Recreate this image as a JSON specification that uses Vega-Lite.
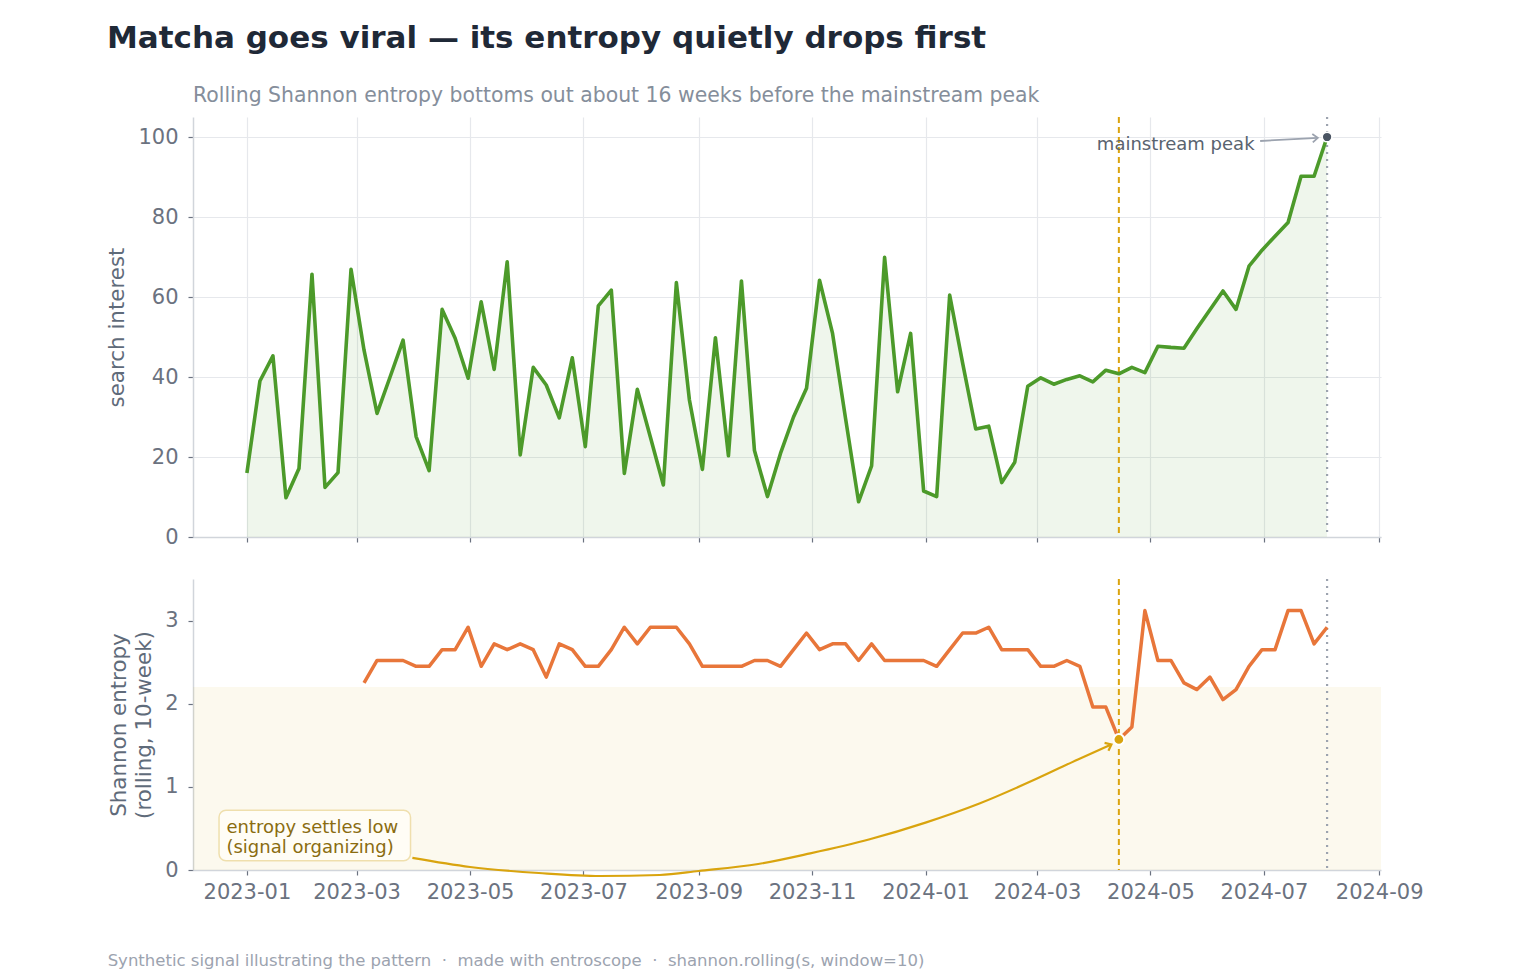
{
  "$schema": "https://vega.github.io/schema/vega-lite/v6.json",
  "background": "white",
  "padding": {"left": 106, "top": 22, "right": 20, "bottom": 10},
  "title": {
    "text": "Matcha goes viral — its entropy quietly drops first",
    "anchor": "start",
    "frame": "bounds",
    "font": "DejaVu Sans",
    "fontSize": 31,
    "fontWeight": "bold",
    "color": "#1f2937",
    "offset": 31,
    "dx": 0
  },
  "spacing": 30,
  "datasets": {
    "interest": [
      {"week": "2023-01-01", "interest": 16.0},
      {"week": "2023-01-08", "interest": 39.0},
      {"week": "2023-01-15", "interest": 45.3},
      {"week": "2023-01-22", "interest": 9.8},
      {"week": "2023-01-29", "interest": 17.1},
      {"week": "2023-02-05", "interest": 65.7},
      {"week": "2023-02-12", "interest": 12.4},
      {"week": "2023-02-19", "interest": 16.1},
      {"week": "2023-02-26", "interest": 66.9},
      {"week": "2023-03-05", "interest": 46.7},
      {"week": "2023-03-12", "interest": 30.9},
      {"week": "2023-03-19", "interest": 40.0},
      {"week": "2023-03-26", "interest": 49.2},
      {"week": "2023-04-02", "interest": 25.1},
      {"week": "2023-04-09", "interest": 16.6},
      {"week": "2023-04-16", "interest": 56.9},
      {"week": "2023-04-23", "interest": 49.7},
      {"week": "2023-04-30", "interest": 39.7},
      {"week": "2023-05-07", "interest": 58.8},
      {"week": "2023-05-14", "interest": 41.9},
      {"week": "2023-05-21", "interest": 68.8},
      {"week": "2023-05-28", "interest": 20.5},
      {"week": "2023-06-04", "interest": 42.4},
      {"week": "2023-06-11", "interest": 38.0},
      {"week": "2023-06-18", "interest": 29.8},
      {"week": "2023-06-25", "interest": 44.8},
      {"week": "2023-07-02", "interest": 22.6},
      {"week": "2023-07-09", "interest": 57.8},
      {"week": "2023-07-16", "interest": 61.7},
      {"week": "2023-07-23", "interest": 15.9},
      {"week": "2023-07-30", "interest": 36.9},
      {"week": "2023-08-06", "interest": 25.0},
      {"week": "2023-08-13", "interest": 13.0},
      {"week": "2023-08-20", "interest": 63.6},
      {"week": "2023-08-27", "interest": 34.3},
      {"week": "2023-09-03", "interest": 16.9},
      {"week": "2023-09-10", "interest": 49.8},
      {"week": "2023-09-17", "interest": 20.3},
      {"week": "2023-09-24", "interest": 64.0},
      {"week": "2023-10-01", "interest": 21.6},
      {"week": "2023-10-08", "interest": 10.1},
      {"week": "2023-10-15", "interest": 20.9},
      {"week": "2023-10-22", "interest": 30.0},
      {"week": "2023-10-29", "interest": 37.2},
      {"week": "2023-11-05", "interest": 64.2},
      {"week": "2023-11-12", "interest": 50.9},
      {"week": "2023-11-19", "interest": 29.6},
      {"week": "2023-11-26", "interest": 8.8},
      {"week": "2023-12-03", "interest": 17.8},
      {"week": "2023-12-10", "interest": 69.9},
      {"week": "2023-12-17", "interest": 36.3},
      {"week": "2023-12-24", "interest": 50.9},
      {"week": "2023-12-31", "interest": 11.5},
      {"week": "2024-01-07", "interest": 10.1},
      {"week": "2024-01-14", "interest": 60.5},
      {"week": "2024-01-21", "interest": 43.4},
      {"week": "2024-01-28", "interest": 27.0},
      {"week": "2024-02-04", "interest": 27.7},
      {"week": "2024-02-11", "interest": 13.6},
      {"week": "2024-02-18", "interest": 18.7},
      {"week": "2024-02-25", "interest": 37.7},
      {"week": "2024-03-03", "interest": 39.8},
      {"week": "2024-03-10", "interest": 38.2},
      {"week": "2024-03-17", "interest": 39.4},
      {"week": "2024-03-24", "interest": 40.3},
      {"week": "2024-03-31", "interest": 38.8},
      {"week": "2024-04-07", "interest": 41.7},
      {"week": "2024-04-14", "interest": 40.8},
      {"week": "2024-04-21", "interest": 42.4},
      {"week": "2024-04-28", "interest": 41.1},
      {"week": "2024-05-05", "interest": 47.7},
      {"week": "2024-05-12", "interest": 47.4},
      {"week": "2024-05-19", "interest": 47.2},
      {"week": "2024-05-26", "interest": 52.1},
      {"week": "2024-06-02", "interest": 56.8},
      {"week": "2024-06-09", "interest": 61.5},
      {"week": "2024-06-16", "interest": 56.9},
      {"week": "2024-06-23", "interest": 67.7},
      {"week": "2024-06-30", "interest": 71.7},
      {"week": "2024-07-07", "interest": 75.2},
      {"week": "2024-07-14", "interest": 78.6},
      {"week": "2024-07-21", "interest": 90.2},
      {"week": "2024-07-28", "interest": 90.2},
      {"week": "2024-08-04", "interest": 100.0}
    ],
    "entropy": [
      {"week": "2023-03-05", "entropy": 2.25},
      {"week": "2023-03-12", "entropy": 2.52},
      {"week": "2023-03-19", "entropy": 2.52},
      {"week": "2023-03-26", "entropy": 2.52},
      {"week": "2023-04-02", "entropy": 2.45},
      {"week": "2023-04-09", "entropy": 2.45},
      {"week": "2023-04-16", "entropy": 2.65},
      {"week": "2023-04-23", "entropy": 2.65},
      {"week": "2023-04-30", "entropy": 2.92},
      {"week": "2023-05-07", "entropy": 2.45},
      {"week": "2023-05-14", "entropy": 2.72},
      {"week": "2023-05-21", "entropy": 2.65},
      {"week": "2023-05-28", "entropy": 2.72},
      {"week": "2023-06-04", "entropy": 2.65},
      {"week": "2023-06-11", "entropy": 2.32},
      {"week": "2023-06-18", "entropy": 2.72},
      {"week": "2023-06-25", "entropy": 2.65},
      {"week": "2023-07-02", "entropy": 2.45},
      {"week": "2023-07-09", "entropy": 2.45},
      {"week": "2023-07-16", "entropy": 2.65},
      {"week": "2023-07-23", "entropy": 2.92},
      {"week": "2023-07-30", "entropy": 2.72},
      {"week": "2023-08-06", "entropy": 2.92},
      {"week": "2023-08-13", "entropy": 2.92},
      {"week": "2023-08-20", "entropy": 2.92},
      {"week": "2023-08-27", "entropy": 2.72},
      {"week": "2023-09-03", "entropy": 2.45},
      {"week": "2023-09-10", "entropy": 2.45},
      {"week": "2023-09-17", "entropy": 2.45},
      {"week": "2023-09-24", "entropy": 2.45},
      {"week": "2023-10-01", "entropy": 2.52},
      {"week": "2023-10-08", "entropy": 2.52},
      {"week": "2023-10-15", "entropy": 2.45},
      {"week": "2023-10-22", "entropy": 2.65},
      {"week": "2023-10-29", "entropy": 2.85},
      {"week": "2023-11-05", "entropy": 2.65},
      {"week": "2023-11-12", "entropy": 2.72},
      {"week": "2023-11-19", "entropy": 2.72},
      {"week": "2023-11-26", "entropy": 2.52},
      {"week": "2023-12-03", "entropy": 2.72},
      {"week": "2023-12-10", "entropy": 2.52},
      {"week": "2023-12-17", "entropy": 2.52},
      {"week": "2023-12-24", "entropy": 2.52},
      {"week": "2023-12-31", "entropy": 2.52},
      {"week": "2024-01-07", "entropy": 2.45},
      {"week": "2024-01-14", "entropy": 2.65},
      {"week": "2024-01-21", "entropy": 2.85},
      {"week": "2024-01-28", "entropy": 2.85},
      {"week": "2024-02-04", "entropy": 2.92},
      {"week": "2024-02-11", "entropy": 2.65},
      {"week": "2024-02-18", "entropy": 2.65},
      {"week": "2024-02-25", "entropy": 2.65},
      {"week": "2024-03-03", "entropy": 2.45},
      {"week": "2024-03-10", "entropy": 2.45},
      {"week": "2024-03-17", "entropy": 2.52},
      {"week": "2024-03-24", "entropy": 2.45},
      {"week": "2024-03-31", "entropy": 1.96},
      {"week": "2024-04-07", "entropy": 1.96},
      {"week": "2024-04-14", "entropy": 1.57},
      {"week": "2024-04-21", "entropy": 1.72},
      {"week": "2024-04-28", "entropy": 3.12},
      {"week": "2024-05-05", "entropy": 2.52},
      {"week": "2024-05-12", "entropy": 2.52},
      {"week": "2024-05-19", "entropy": 2.25},
      {"week": "2024-05-26", "entropy": 2.17},
      {"week": "2024-06-02", "entropy": 2.32},
      {"week": "2024-06-09", "entropy": 2.05},
      {"week": "2024-06-16", "entropy": 2.17},
      {"week": "2024-06-23", "entropy": 2.45},
      {"week": "2024-06-30", "entropy": 2.65},
      {"week": "2024-07-07", "entropy": 2.65},
      {"week": "2024-07-14", "entropy": 3.12},
      {"week": "2024-07-21", "entropy": 3.12},
      {"week": "2024-07-28", "entropy": 2.72},
      {"week": "2024-08-04", "entropy": 2.92}
    ],
    "peakArrow": [
      {"week": "2024-06-29", "interest": 99.0},
      {"week": "2024-07-30", "interest": 99.8}
    ],
    "lowArrow": [
      {"week": "2023-03-31", "entropy": 0.145},
      {"week": "2023-05-01", "entropy": 0.036},
      {"week": "2023-06-07", "entropy": -0.036},
      {"week": "2023-07-10", "entropy": -0.072},
      {"week": "2023-08-11", "entropy": -0.06},
      {"week": "2023-09-01", "entropy": -0.012},
      {"week": "2023-10-03", "entropy": 0.072},
      {"week": "2023-10-31", "entropy": 0.2},
      {"week": "2023-12-02", "entropy": 0.37},
      {"week": "2024-01-01", "entropy": 0.57},
      {"week": "2024-01-30", "entropy": 0.8},
      {"week": "2024-03-01", "entropy": 1.1},
      {"week": "2024-03-23", "entropy": 1.33},
      {"week": "2024-04-10", "entropy": 1.51}
    ]
  },
  "vconcat": [
    {
      "width": 1188,
      "height": 420,
      "title": {
        "text": "Rolling Shannon entropy bottoms out about 16 weeks before the mainstream peak",
        "anchor": "start",
        "frame": "group",
        "fontSize": 20.4,
        "fontWeight": "normal",
        "color": "#858e9b",
        "offset": 10
      },
      "layer": [
        {
          "data": {"name": "interest"},
          "mark": {"type": "area", "color": "#4c9a2a", "opacity": 0.09},
          "encoding": {
            "x": {
              "field": "week", "type": "temporal",
              "scale": {"type": "utc", "domain": [{"year": 2022, "month": 12, "date": 3, "utc": true}, {"year": 2024, "month": 9, "date": 2, "utc": true}]},
              "axis": {"title": null, "labels": false, "tickCount": {"interval": "month", "step": 2}}
            },
            "y": {
              "field": "interest", "type": "quantitative",
              "scale": {"domain": [0, 105], "nice": false},
              "axis": {"title": "search interest", "values": [0, 20, 40, 60, 80, 100], "format": "d"}
            }
          }
        },
        {
          "data": {"values": [{}]},
          "mark": {"type": "rule", "color": "#dba40e", "strokeWidth": 2, "strokeDash": [6, 4]},
          "encoding": {"x": {"datum": {"year": 2024, "month": 4, "date": 14, "utc": true}, "type": "temporal"}}
        },
        {
          "data": {"values": [{}]},
          "mark": {"type": "rule", "color": "#9ca3af", "strokeWidth": 2.2, "strokeDash": [2, 5]},
          "encoding": {"x": {"datum": {"year": 2024, "month": 8, "date": 4, "utc": true}, "type": "temporal"}}
        },
        {
          "data": {"name": "interest"},
          "mark": {"type": "line", "color": "#4c9a2a", "strokeWidth": 3.6, "strokeJoin": "round"},
          "encoding": {
            "x": {"field": "week", "type": "temporal"},
            "y": {"field": "interest", "type": "quantitative"}
          }
        },
        {
          "data": {"name": "peakArrow"},
          "mark": {"type": "line", "color": "#9ca3af", "strokeWidth": 1.8},
          "encoding": {
            "x": {"field": "week", "type": "temporal"},
            "y": {"field": "interest", "type": "quantitative"}
          }
        },
        {
          "data": {"values": [{}]},
          "mark": {"type": "point", "shape": "M-0.8,1L0,0L0.8,1", "filled": false, "color": "#9ca3af", "strokeWidth": 1.8, "size": 110, "angle": 86.5, "opacity": 1},
          "encoding": {
            "x": {"datum": {"year": 2024, "month": 7, "date": 30, "utc": true}, "type": "temporal"},
            "y": {"datum": 99.8, "type": "quantitative"}
          }
        },
        {
          "data": {"values": [{}]},
          "mark": {"type": "text", "text": "mainstream peak", "align": "right", "baseline": "middle", "fontSize": 18, "color": "#59636f"},
          "encoding": {
            "x": {"datum": {"year": 2024, "month": 6, "date": 26, "utc": true}, "type": "temporal"},
            "y": {"datum": 97.9, "type": "quantitative"}
          }
        },
        {
          "data": {"values": [{}]},
          "mark": {"type": "point", "filled": true, "color": "#4b5563", "size": 95, "opacity": 1, "stroke": "white", "strokeWidth": 1.5},
          "encoding": {
            "x": {"datum": {"year": 2024, "month": 8, "date": 4, "utc": true}, "type": "temporal"},
            "y": {"datum": 100, "type": "quantitative"}
          }
        }
      ]
    },
    {
      "width": 1188,
      "height": 291,
      "title": {
        "text": "Synthetic signal illustrating the pattern \u00a0·\u00a0 made with entroscope \u00a0·\u00a0 shannon.rolling(s, window=10)",
        "orient": "bottom",
        "anchor": "start",
        "frame": "bounds",
        "fontSize": 16.5,
        "fontWeight": "normal",
        "color": "#9ca3af",
        "offset": 51,
        "dx": -1
      },
      "layer": [
        {
          "data": {"values": [{}]},
          "mark": {"type": "rect", "color": "#d9a40e", "opacity": 0.07},
          "encoding": {
            "x": {"datum": {"year": 2022, "month": 12, "date": 3, "utc": true}, "type": "temporal"},
            "x2": {"datum": {"year": 2024, "month": 9, "date": 2, "utc": true}},
            "y": {"datum": 0, "type": "quantitative"},
            "y2": {"datum": 2.2}
          }
        },
        {
          "data": {"values": [{}]},
          "mark": {"type": "rule", "color": "#dba40e", "strokeWidth": 2, "strokeDash": [6, 4]},
          "encoding": {"x": {"datum": {"year": 2024, "month": 4, "date": 14, "utc": true}, "type": "temporal"}}
        },
        {
          "data": {"values": [{}]},
          "mark": {"type": "rule", "color": "#9ca3af", "strokeWidth": 2.2, "strokeDash": [2, 5]},
          "encoding": {"x": {"datum": {"year": 2024, "month": 8, "date": 4, "utc": true}, "type": "temporal"}}
        },
        {
          "data": {"name": "entropy"},
          "mark": {"type": "line", "color": "#e8763a", "strokeWidth": 3.5, "strokeJoin": "round"},
          "encoding": {
            "x": {
              "field": "week", "type": "temporal",
              "scale": {"type": "utc", "domain": [{"year": 2022, "month": 12, "date": 3, "utc": true}, {"year": 2024, "month": 9, "date": 2, "utc": true}]},
              "axis": {"title": null, "format": "%Y-%m", "labelExpr": "utcFormat(datum.value, '%Y-%m')", "tickCount": {"interval": "month", "step": 2}}
            },
            "y": {
              "field": "entropy", "type": "quantitative",
              "scale": {"domain": [0, 3.5], "nice": false},
              "axis": {"title": ["Shannon entropy", "(rolling, 10-week)"], "values": [0, 1, 2, 3], "format": "d", "titleLineHeight": 25}
            }
          }
        },
        {
          "data": {"name": "lowArrow"},
          "mark": {"type": "line", "color": "#d9a40e", "strokeWidth": 2.2, "interpolate": "monotone"},
          "encoding": {
            "x": {"field": "week", "type": "temporal"},
            "y": {"field": "entropy", "type": "quantitative"}
          }
        },
        {
          "data": {"values": [{}]},
          "mark": {"type": "point", "shape": "M-0.8,1L0,0L0.8,1", "filled": false, "color": "#d9a40e", "strokeWidth": 2.2, "size": 120, "angle": 64, "opacity": 1},
          "encoding": {
            "x": {"datum": {"year": 2024, "month": 4, "date": 10, "utc": true}, "type": "temporal"},
            "y": {"datum": 1.51, "type": "quantitative"}
          }
        },
        {
          "data": {"values": [{}]},
          "mark": {"type": "rect", "fill": "#fffdf6", "stroke": "#efdfad", "strokeWidth": 1.5, "cornerRadius": 7},
          "encoding": {
            "x": {"datum": {"year": 2022, "month": 12, "date": 17, "utc": true}, "type": "temporal"},
            "x2": {"datum": {"year": 2023, "month": 3, "date": 30, "utc": true}},
            "y": {"datum": 0.72, "type": "quantitative"},
            "y2": {"datum": 0.11}
          }
        },
        {
          "data": {"values": [{}]},
          "mark": {"type": "text", "text": ["entropy settles low", "(signal organizing)"], "align": "left", "baseline": "middle", "fontSize": 18, "lineHeight": 19.5, "color": "#8a6c10"},
          "encoding": {
            "x": {"datum": {"year": 2022, "month": 12, "date": 21, "utc": true}, "type": "temporal"},
            "y": {"datum": 0.5, "type": "quantitative"}
          }
        },
        {
          "data": {"values": [{}]},
          "mark": {"type": "point", "filled": true, "color": "#d9a40e", "size": 115, "opacity": 1, "stroke": "white", "strokeWidth": 2},
          "encoding": {
            "x": {"datum": {"year": 2024, "month": 4, "date": 14, "utc": true}, "type": "temporal"},
            "y": {"datum": 1.57, "type": "quantitative"}
          }
        }
      ]
    }
  ],
  "config": {
    "font": "DejaVu Sans",
    "view": {"stroke": null},
    "title": {"font": "DejaVu Sans"},
    "text": {"font": "DejaVu Sans"},
    "axis": {
      "labelFont": "DejaVu Sans",
      "titleFont": "DejaVu Sans",
      "labelFontSize": 21,
      "labelColor": "#6b7280",
      "titleFontSize": 21.4,
      "titleFontWeight": "normal",
      "titleColor": "#5f6b7a",
      "gridColor": "#e6e8ec",
      "gridWidth": 1.2,
      "domainColor": "#d1d5db",
      "domainWidth": 1.5,
      "tickColor": "#6b7280",
      "tickSize": 5,
      "tickWidth": 1.2
    },
    "axisX": {"labelPadding": 6},
    "axisY": {"labelPadding": 10, "titlePadding": 10}
  }
}
